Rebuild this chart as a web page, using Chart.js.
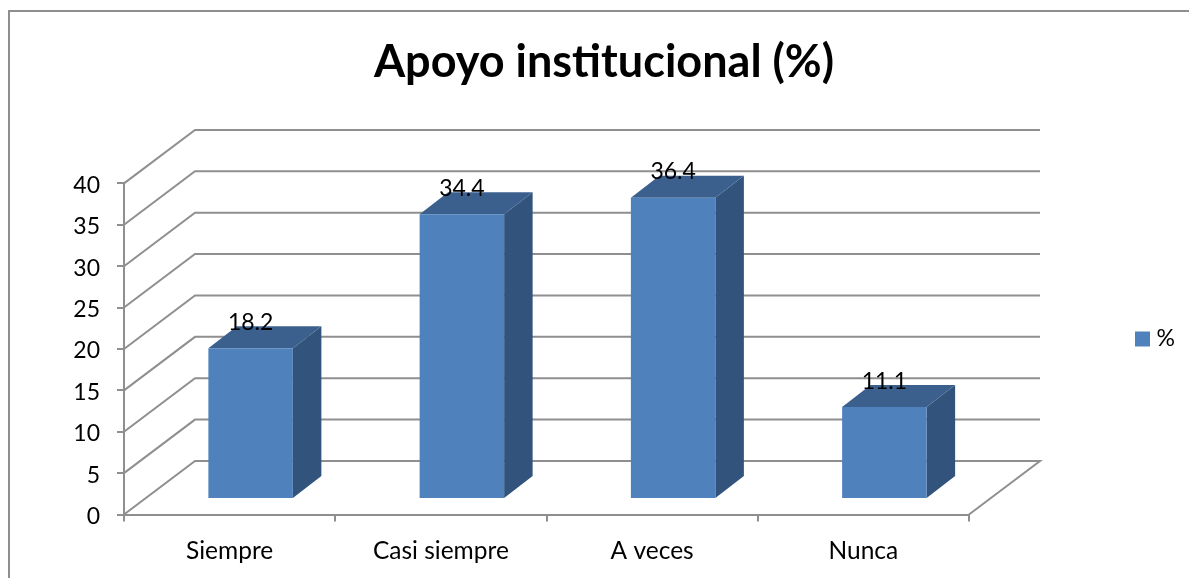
<!DOCTYPE html>
<html lang="es">
<head>
<meta charset="utf-8">
<title>Apoyo institucional (%)</title>
<style>html,body{margin:0;padding:0;background:#fff;overflow:hidden}canvas{display:block}</style>
<script src="https://cdn.jsdelivr.net/npm/chart.js@4"></script>
</head>
<body>
<canvas id="c" width="1189" height="578"></canvas>
<script>
const categories = ["Siempre", "Casi siempre", "A veces", "Nunca"];
const values = [18.2, 34.4, 36.4, 11.1];
const seriesName = "%";
const chartTitle = "Apoyo institucional (%)";
const FONT = "Lato, Carlito, Calibri, sans-serif";
const GRID = "#8f8f8f";
const FRONT = "#4f81bd", SIDE = "#32537c", TOP = "#3c608e";
const WALL = {dx: 71, dy: -53.5};
const BAR = {dx: 21, dy: -15.5, depthX: 28.5, depthY: -22};

const poly = (ctx, pts, fill) => {
  ctx.beginPath();
  pts.forEach((p, i) => i ? ctx.lineTo(p[0], p[1]) : ctx.moveTo(p[0], p[1]));
  ctx.closePath();
  ctx.fillStyle = fill;
  ctx.fill();
};

const threeD = {
  id: "threeD",
  beforeUpdate(chart) {
    const legend = chart.legend;
    if (legend && !legend._wrapped) {
      const fit = legend.fit.bind(legend);
      legend.fit = function () { fit(); this.width = 220; };
      legend._wrapped = true;
    }
  },
  afterLayout(chart) {
    const l = chart.legend;
    l.left = 1130;
    l.right = 1189;
    l.top = 341 - 23.5;
    l.bottom = l.top + 47;
    l.height = 47;
  },
  beforeDraw(chart) {
    const {ctx} = chart;
    ctx.save();
    ctx.strokeStyle = GRID;
    ctx.lineWidth = 2;
    ctx.beginPath();
    ctx.moveTo(1189, 11);
    ctx.lineTo(9, 11);
    ctx.lineTo(9, 578);
    ctx.stroke();
    ctx.restore();
  },
  beforeDatasetsDraw(chart) {
    const {ctx, scales: {x, y}} = chart;
    const meta = chart.getDatasetMeta(0);
    ctx.save();
    ctx.strokeStyle = GRID;
    ctx.lineWidth = 2;
    y.ticks.forEach(t => {
      const py = y.getPixelForValue(t.value);
      ctx.beginPath();
      ctx.moveTo(x.left, py);
      ctx.lineTo(x.left + WALL.dx, py + WALL.dy);
      ctx.lineTo(x.right + WALL.dx, py + WALL.dy);
      if (t.value === 0) ctx.lineTo(x.right, py);
      ctx.stroke();
    });
    meta.data.forEach(b => {
      const l = b.x - b.width / 2 + BAR.dx, r = b.x + b.width / 2 + BAR.dx;
      const top = b.y + BAR.dy, base = b.base + BAR.dy;
      poly(ctx, [[r, top], [r + BAR.depthX, top + BAR.depthY], [r + BAR.depthX, base + BAR.depthY], [r, base]], SIDE);
      poly(ctx, [[l, top], [l + BAR.depthX, top + BAR.depthY], [r + BAR.depthX, top + BAR.depthY], [r, top]], TOP);
    });
    ctx.restore();
    ctx.save();
    ctx.translate(BAR.dx, BAR.dy);
  },
  afterDatasetsDraw(chart) {
    const {ctx} = chart;
    ctx.restore();
    const meta = chart.getDatasetMeta(0);
    ctx.save();
    ctx.font = "23px " + FONT;
    ctx.fillStyle = "#000";
    ctx.textAlign = "center";
    ctx.textBaseline = "middle";
    meta.data.forEach((b, i) => {
      ctx.fillText(String(values[i]), b.x + BAR.dx, b.y + BAR.dy - 26);
    });
    ctx.restore();
  }
};

new Chart(document.getElementById("c"), {
  type: "bar",
  data: {
    labels: categories,
    datasets: [{
      label: seriesName,
      data: values,
      backgroundColor: FRONT,
      borderWidth: 0,
      categoryPercentage: 1,
      barPercentage: 0.4
    }]
  },
  plugins: [threeD],
  options: {
    responsive: false,
    animation: false,
    devicePixelRatio: 1,
    layout: {autoPadding: false, padding: {left: 19, right: 0, top: 0, bottom: 0}},
    plugins: {
      tooltip: {enabled: false},
      title: {
        display: true,
        text: chartTitle,
        color: "#000",
        font: {family: FONT, size: 45, weight: "bold", lineHeight: 1.2},
        padding: {top: 35, bottom: 94.4}
      },
      legend: {
        display: true,
        position: "right",
        align: "start",
        labels: {
          usePointStyle: true,
          pointStyle: "rect",
          boxWidth: 5,
          boxHeight: 15,
          padding: 10,
          color: "#000",
          font: {family: FONT, size: 23}
        }
      }
    },
    scales: {
      x: {
        afterFit(s) { s.height = 63.5; },
        grid: {drawOnChartArea: false, tickLength: 7, color: GRID, lineWidth: 2},
        border: {color: GRID, width: 2},
        ticks: {color: "#000", padding: 15, maxRotation: 0, font: {family: FONT, size: 24.5}}
      },
      y: {
        min: 0,
        max: 40,
        afterFit(s) { s.width = 105; },
        grid: {drawOnChartArea: false, tickLength: 7, color: GRID, lineWidth: 2},
        border: {color: GRID, width: 2},
        ticks: {stepSize: 5, color: "#000", padding: 17, labelOffset: 2, font: {family: FONT, size: 23}}
      }
    }
  }
});
</script>
</body>
</html>
